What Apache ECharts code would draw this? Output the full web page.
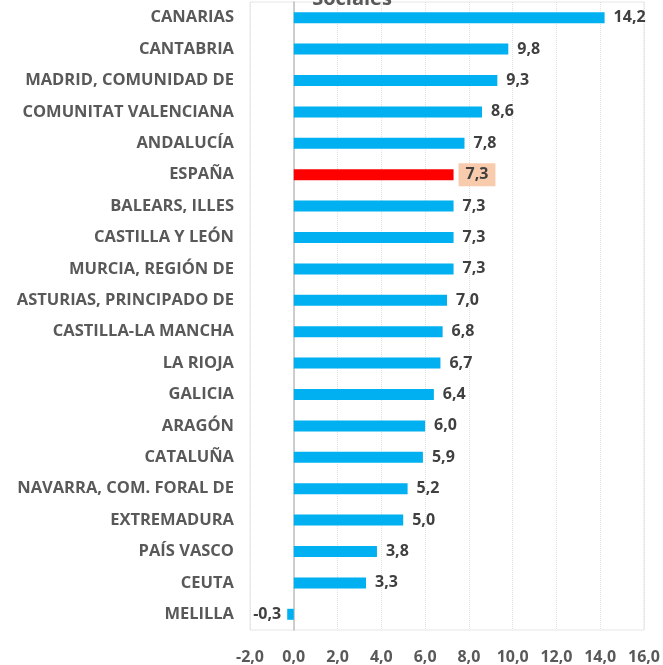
<!DOCTYPE html>
<html>
<head>
<meta charset="utf-8">
<script src="https://cdn.jsdelivr.net/npm/echarts@6/dist/echarts.min.js"></script>
<style>
  html, body { margin: 0; padding: 0; background: #fff; }
  #grafico { width: 663px; height: 665px; }
</style>
</head>
<body>
<div id="grafico"></div>
<script>
var comunidades = ['CANARIAS', 'CANTABRIA', 'MADRID, COMUNIDAD DE', 'COMUNITAT VALENCIANA', 'ANDALUCÍA',
    'ESPAÑA', 'BALEARS, ILLES', 'CASTILLA Y LEÓN', 'MURCIA, REGIÓN DE', 'ASTURIAS, PRINCIPADO DE',
    'CASTILLA-LA MANCHA', 'LA RIOJA', 'GALICIA', 'ARAGÓN', 'CATALUÑA',
    'NAVARRA, COM. FORAL DE', 'EXTREMADURA', 'PAÍS VASCO', 'CEUTA', 'MELILLA'];
var valores = [14.2, 9.8, 9.3, 8.6, 7.8, 7.3, 7.3, 7.3, 7.3, 7.0, 6.8, 6.7, 6.4, 6.0, 5.9, 5.2, 5.0, 3.8, 3.3, -0.3];

var fuente = '"Open Sans", sans-serif';

function coma(v) {
    return v.toFixed(1).replace('.', ',');
}

var datos = valores.map(function (v, i) {
    var item = { value: v };
    if (comunidades[i] == 'ESPAÑA') {
        item.itemStyle = { color: '#FF0000' };
        item.label = { backgroundColor: '#F8CBAD', padding: [4, 7, 3, 7], distance: 5 };
    }
    if (v < 0) {
        item.label = { position: 'left', distance: 6 };
    }
    return item;
});

var myChart = echarts.init(document.getElementById('grafico'));

var option = {
    animation: false,
    title: {
        text: 'Sociales',
        left: 347,
        textAlign: 'center',
        top: -16,
        textStyle: { fontFamily: fuente, fontSize: 20, fontWeight: 'bold', color: '#595959' }
    },
    grid: {
        left: 250, right: 17, top: 2, bottom: 35,
        show: true, borderColor: '#E6E6E6', borderWidth: 1
    },
    xAxis: {
        type: 'value',
        min: -2, max: 16, interval: 2,
        axisLine: { show: false },
        axisTick: { show: false },
        splitLine: { lineStyle: { color: '#E0E0E0', type: 'dotted' } },
        axisLabel: {
            formatter: coma, margin: 19,
            fontFamily: fuente, fontSize: 16, fontWeight: 'bold', color: '#595959'
        }
    },
    yAxis: {
        type: 'category',
        inverse: true,
        data: comunidades,
        axisLine: { onZero: true, lineStyle: { color: '#BFBFBF', width: 1.5 } },
        axisTick: { show: false },
        axisLabel: {
            margin: 16,
            fontFamily: fuente, fontSize: 16.5, fontWeight: 'bold', color: '#595959'
        }
    },
    series: [{
        type: 'bar',
        data: datos,
        barWidth: 11,
        itemStyle: { color: '#00B0F0' },
        label: {
            show: true, position: 'right', distance: 9,
            formatter: function (p) { return coma(p.value); },
            fontFamily: fuente, fontSize: 16, fontWeight: 'bold', color: '#404040'
        }
    }]
};

myChart.setOption(option);
</script>
</body>
</html>
